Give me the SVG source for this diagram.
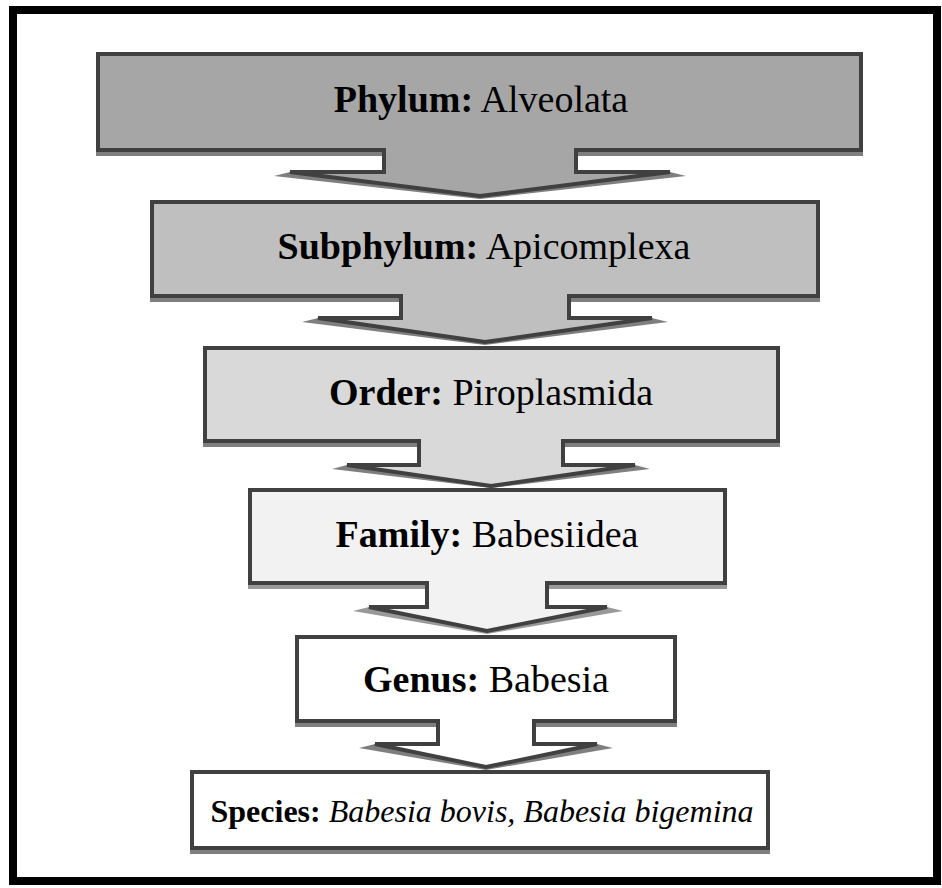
<svg xmlns="http://www.w3.org/2000/svg" width="942" height="888" viewBox="0 0 942 888">
<style>
.box{stroke:#404040;stroke-width:4;stroke-linejoin:miter}
.sh{fill:#7f7f7f;stroke:#7f7f7f;stroke-width:4}
.ash{fill:#7f7f7f;stroke:none}
.afill{stroke:none}
.aline{fill:none;stroke:#404040;stroke-width:4;stroke-linejoin:miter}
text{font-family:"Liberation Serif","Times New Roman",serif;font-size:38px;fill:#000;text-anchor:middle}
.b{font-weight:bold}
.i{font-style:italic}
.c1{fill:#a6a6a6}.c2{fill:#bfbfbf}.c3{fill:#d9d9d9}.c4{fill:#f2f2f2}.c5{fill:#ffffff}
</style>
<rect x="0" y="0" width="942" height="888" fill="#ffffff"/>
<rect id="frame" x="13" y="10" width="924" height="871" fill="#ffffff" stroke="#000000" stroke-width="8"/>

<g id="node-phylum">
<rect class="sh" x="98" y="58" width="763" height="96"/>
<rect class="box c1" x="98" y="54" width="763" height="96"/>
<text x="481" y="112"><tspan class="b">Phylum:</tspan> Alveolata</text>
</g>
<g id="node-subphylum">
<rect class="sh" x="152" y="206" width="666" height="94"/>
<rect class="box c2" x="152" y="202" width="666" height="94"/>
<text x="484" y="259"><tspan class="b">Subphylum:</tspan> Apicomplexa</text>
</g>
<g id="node-order">
<rect class="sh" x="205" y="352" width="573" height="93"/>
<rect class="box c3" x="205" y="348" width="573" height="93"/>
<text x="491" y="405"><tspan class="b">Order:</tspan> Piroplasmida</text>
</g>
<g id="node-family">
<rect class="sh" x="250" y="494" width="475" height="93" style="fill:#999;stroke:#999"/>
<rect class="box c4" x="250" y="490" width="475" height="93"/>
<text x="487" y="547"><tspan class="b">Family:</tspan> Babesiidea</text>
</g>
<g id="node-genus">
<rect class="sh" x="297" y="641" width="378" height="84"/>
<rect class="box c5" x="297" y="637" width="378" height="84"/>
<text x="486" y="692"><tspan class="b">Genus:</tspan> Babesia</text>
</g>
<g id="node-species">
<rect class="sh" x="192" y="776" width="576" height="76"/>
<rect class="box c5" x="192" y="772" width="576" height="76"/>
<text x="482" y="822" style="font-size:32px"><tspan class="b">Species:</tspan> <tspan class="i">Babesia bovis, Babesia bigemina</tspan></text>
</g>

<g id="connectors">
<g id="arrow1">
<polygon class="ash" points="274,176 290,172 670,172 686,176 480,199"/>
<polygon class="afill c1" points="384,148 384,172 290,172 480,196 670,172 576,172 576,148"/>
<polyline class="aline" points="381,150 384,150 384,172 290,172 480,196 670,172 576,172 576,150 579,150"/>
</g>
<g id="arrow2">
<polygon class="ash" points="302,322 318,318 652,318 668,322 485,345"/>
<polygon class="afill c2" points="401,294 401,318 318,318 485,342 652,318 569,318 569,294"/>
<polyline class="aline" points="398,296 401,296 401,318 318,318 485,342 652,318 569,318 569,296 572,296"/>
</g>
<g id="arrow3">
<polygon class="ash" points="332,469 347,465 635,465 650,469 491,488"/>
<polygon class="afill c3" points="419,439 419,465 347,465 491,486 635,465 563,465 563,439"/>
<polyline class="aline" points="416,441 419,441 419,465 347,465 491,486 635,465 563,465 563,441 566,441"/>
</g>
<g id="arrow4">
<polygon class="ash" points="353,611 369,607 607,607 623,611 487,634" style="fill:#999"/>
<polygon class="afill c4" points="427,581 427,607 369,607 487,631 607,607 547,607 547,581"/>
<polyline class="aline" points="424,583 427,583 427,607 369,607 487,631 607,607 547,607 547,583 550,583"/>
</g>
<g id="arrow5">
<polygon class="ash" points="359,748 375,744 597,744 613,748 486,770"/>
<polygon class="afill c5" points="438,719 438,744 375,744 486,767 597,744 534,744 534,719"/>
<polyline class="aline" points="435,721 438,721 438,744 375,744 486,767 597,744 534,744 534,721 537,721"/>
</g>
</g>
</svg>
